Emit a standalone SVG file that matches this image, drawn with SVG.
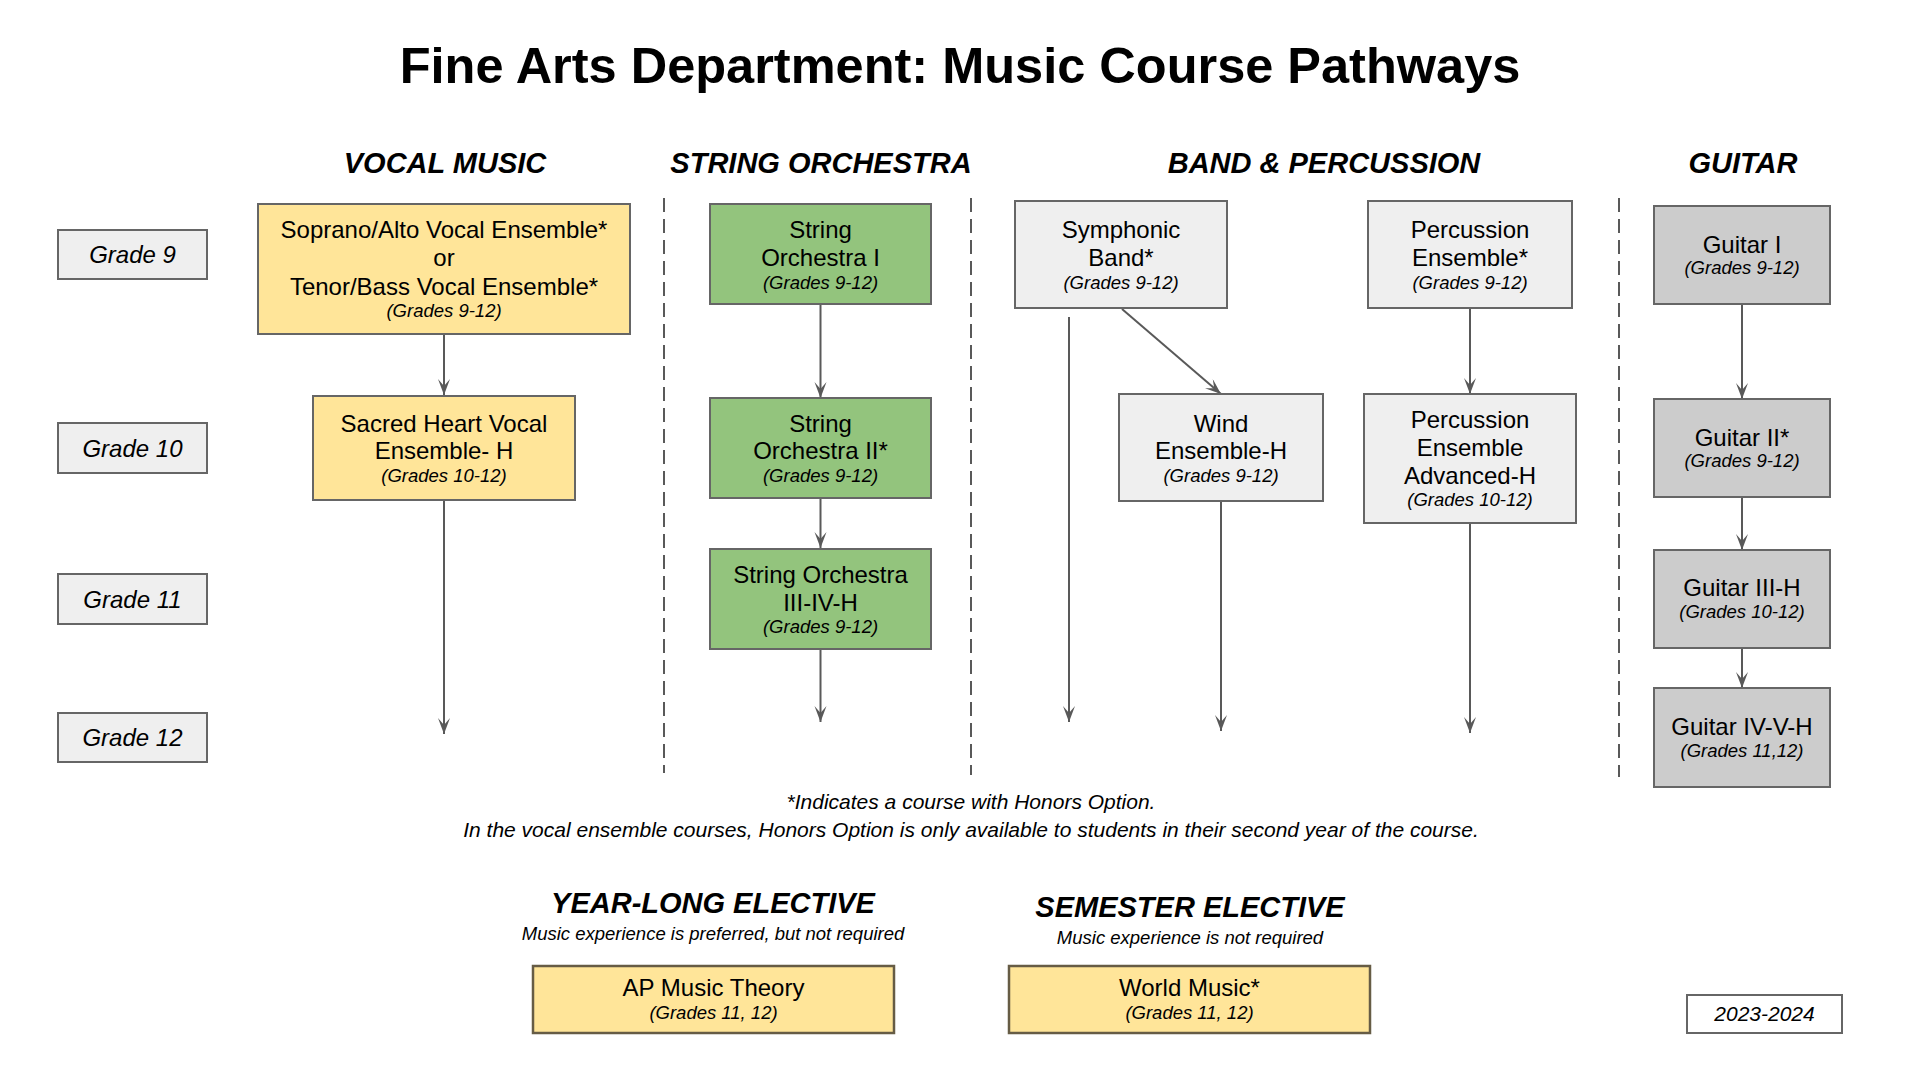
<svg xmlns="http://www.w3.org/2000/svg" width="1920" height="1080" viewBox="0 0 1920 1080">
<style>
.bg{fill:#ffffff}
.box{stroke:#666666;stroke-width:2}
.yel{fill:#ffe599}
.grn{fill:#93c47d}
.lt{fill:#efefef}
.gry{fill:#cccccc}
.elec{fill:#ffe599;stroke:#665c45;stroke-width:2.5}
.wht{fill:#ffffff}
text{font-family:"Liberation Sans",Arial,sans-serif;fill:#000000;text-anchor:middle}
.title{font-size:50.5px;font-weight:bold}
.hdr{font-size:29px;font-weight:bold;font-style:italic}
.m{font-size:24px}
.s{font-size:18.5px;font-style:italic}
.grade{font-size:24px;font-style:italic}
.note{font-size:21px;font-style:italic}
.sub{font-size:18.5px;font-style:italic}
.yr{font-size:21px;font-style:italic}
.conn{stroke:#595959;stroke-width:2;fill:none}
.div{stroke:#595959;stroke-width:2;stroke-dasharray:14 7;fill:none}
</style>
<defs>
<marker id="arr" markerUnits="userSpaceOnUse" markerWidth="17" markerHeight="13" refX="16" refY="6" orient="auto">
<path d="M0,0 L16,6 L0,12 L7,6 z" fill="#595959"/>
</marker>
</defs>
<rect class="bg" x="0" y="0" width="1920" height="1080"/>

<text class="title" x="960" y="83">Fine Arts Department: Music Course Pathways</text>

<g id="headers">
<text class="hdr" x="445" y="173">VOCAL MUSIC</text>
<text class="hdr" x="821" y="173">STRING ORCHESTRA</text>
<text class="hdr" x="1324" y="173">BAND &amp; PERCUSSION</text>
<text class="hdr" x="1743" y="173">GUITAR</text>
</g>

<g id="dividers">
<line class="div" x1="664" y1="198" x2="664" y2="773"/>
<line class="div" x1="971" y1="198" x2="971" y2="775"/>
<line class="div" x1="1619" y1="198" x2="1619" y2="777"/>
</g>

<g id="grade9"><rect class="box lt" x="58" y="230" width="149" height="49"/><text class="grade" x="132.5" y="263">Grade 9</text></g>
<g id="grade10"><rect class="box lt" x="58" y="423" width="149" height="50"/><text class="grade" x="132.5" y="456.5">Grade 10</text></g>
<g id="grade11"><rect class="box lt" x="58" y="574" width="149" height="50"/><text class="grade" x="132.5" y="607.5">Grade 11</text></g>
<g id="grade12"><rect class="box lt" x="58" y="713" width="149" height="49"/><text class="grade" x="132.5" y="746">Grade 12</text></g>

<g id="connectors">
<line class="conn" x1="444" y1="334" x2="444" y2="395" marker-end="url(#arr)"/>
<line class="conn" x1="444" y1="500" x2="444" y2="734" marker-end="url(#arr)"/>
<line class="conn" x1="820.5" y1="304" x2="820.5" y2="398" marker-end="url(#arr)"/>
<line class="conn" x1="820.5" y1="498" x2="820.5" y2="548" marker-end="url(#arr)"/>
<line class="conn" x1="820.5" y1="649" x2="820.5" y2="722" marker-end="url(#arr)"/>
<line class="conn" x1="1069" y1="317" x2="1069" y2="722" marker-end="url(#arr)"/>
<line class="conn" x1="1122" y1="309" x2="1221" y2="394" marker-end="url(#arr)"/>
<line class="conn" x1="1221" y1="501" x2="1221" y2="731" marker-end="url(#arr)"/>
<line class="conn" x1="1470" y1="308" x2="1470" y2="394" marker-end="url(#arr)"/>
<line class="conn" x1="1470" y1="523" x2="1470" y2="733" marker-end="url(#arr)"/>
<line class="conn" x1="1742" y1="304" x2="1742" y2="399" marker-end="url(#arr)"/>
<line class="conn" x1="1742" y1="497" x2="1742" y2="550" marker-end="url(#arr)"/>
<line class="conn" x1="1742" y1="648" x2="1742" y2="688" marker-end="url(#arr)"/>
</g>

<g id="soprano-tenor">
<rect class="box yel" x="258" y="204" width="372" height="130"/>
<text class="m" x="444" y="238">Soprano/Alto Vocal Ensemble*</text>
<text class="m" x="444" y="266">or</text>
<text class="m" x="444" y="294.5">Tenor/Bass Vocal Ensemble*</text>
<text class="s" x="444" y="317">(Grades 9-12)</text>
</g>
<g id="sacred-heart">
<rect class="box yel" x="313" y="396" width="262" height="104"/>
<text class="m" x="444" y="432">Sacred Heart Vocal</text>
<text class="m" x="444" y="459">Ensemble- H</text>
<text class="s" x="444" y="482">(Grades 10-12)</text>
</g>

<g id="string-1">
<rect class="box grn" x="710" y="204" width="221" height="100"/>
<text class="m" x="820.5" y="238">String</text>
<text class="m" x="820.5" y="266">Orchestra I</text>
<text class="s" x="820.5" y="289">(Grades 9-12)</text>
</g>
<g id="string-2">
<rect class="box grn" x="710" y="398" width="221" height="100"/>
<text class="m" x="820.5" y="432">String</text>
<text class="m" x="820.5" y="459">Orchestra II*</text>
<text class="s" x="820.5" y="482">(Grades 9-12)</text>
</g>
<g id="string-3">
<rect class="box grn" x="710" y="549" width="221" height="100"/>
<text class="m" x="820.5" y="582.5">String Orchestra</text>
<text class="m" x="820.5" y="611">III-IV-H</text>
<text class="s" x="820.5" y="633">(Grades 9-12)</text>
</g>

<g id="symphonic-band">
<rect class="box lt" x="1015" y="201" width="212" height="107"/>
<text class="m" x="1121" y="238">Symphonic</text>
<text class="m" x="1121" y="266">Band*</text>
<text class="s" x="1121" y="289">(Grades 9-12)</text>
</g>
<g id="wind-ensemble">
<rect class="box lt" x="1119" y="394" width="204" height="107"/>
<text class="m" x="1221" y="432">Wind</text>
<text class="m" x="1221" y="459">Ensemble-H</text>
<text class="s" x="1221" y="482">(Grades 9-12)</text>
</g>
<g id="percussion">
<rect class="box lt" x="1368" y="201" width="204" height="107"/>
<text class="m" x="1470" y="238">Percussion</text>
<text class="m" x="1470" y="266">Ensemble*</text>
<text class="s" x="1470" y="289">(Grades 9-12)</text>
</g>
<g id="percussion-advanced">
<rect class="box lt" x="1364" y="394" width="212" height="129"/>
<text class="m" x="1470" y="428">Percussion</text>
<text class="m" x="1470" y="456">Ensemble</text>
<text class="m" x="1470" y="484">Advanced-H</text>
<text class="s" x="1470" y="506">(Grades 10-12)</text>
</g>

<g id="guitar-1">
<rect class="box gry" x="1654" y="206" width="176" height="98"/>
<text class="m" x="1742" y="253">Guitar I</text>
<text class="s" x="1742" y="274">(Grades 9-12)</text>
</g>
<g id="guitar-2">
<rect class="box gry" x="1654" y="399" width="176" height="98"/>
<text class="m" x="1742" y="445.5">Guitar II*</text>
<text class="s" x="1742" y="467">(Grades 9-12)</text>
</g>
<g id="guitar-3">
<rect class="box gry" x="1654" y="550" width="176" height="98"/>
<text class="m" x="1742" y="596">Guitar III-H</text>
<text class="s" x="1742" y="618">(Grades 10-12)</text>
</g>
<g id="guitar-4">
<rect class="box gry" x="1654" y="688" width="176" height="99"/>
<text class="m" x="1742" y="734.5">Guitar IV-V-H</text>
<text class="s" x="1742" y="756.5">(Grades 11,12)</text>
</g>

<g id="notes">
<text class="note" x="971" y="809">*Indicates a course with Honors Option.</text>
<text class="note" x="971" y="837">In the vocal ensemble courses, Honors Option is only available to students in their second year of the course.</text>
</g>

<g id="year-long-elective">
<text class="hdr" x="713" y="913">YEAR-LONG ELECTIVE</text>
<text class="sub" x="713" y="940">Music experience is preferred, but not required</text>
</g>
<g id="semester-elective">
<text class="hdr" x="1190" y="917">SEMESTER ELECTIVE</text>
<text class="sub" x="1190" y="944">Music experience is not required</text>
</g>

<g id="ap-music-theory">
<rect class="elec" x="533" y="966" width="361" height="67"/>
<text class="m" x="713.5" y="996">AP Music Theory</text>
<text class="s" x="713.5" y="1018.5">(Grades 11, 12)</text>
</g>
<g id="world-music">
<rect class="elec" x="1009" y="966" width="361" height="67"/>
<text class="m" x="1189.5" y="996">World Music*</text>
<text class="s" x="1189.5" y="1018.5">(Grades 11, 12)</text>
</g>
<g id="year-label">
<rect class="box wht" x="1687" y="995" width="155" height="38"/>
<text class="yr" x="1764.5" y="1021">2023-2024</text>
</g>
</svg>
